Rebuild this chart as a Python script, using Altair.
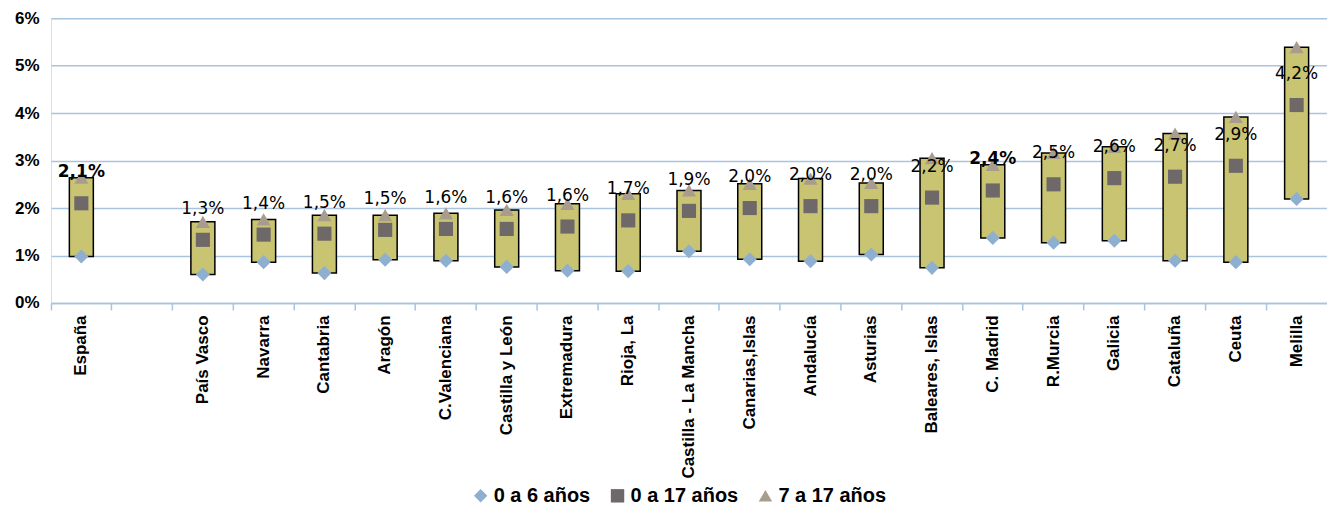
import altair as alt
import pandas as pd

regions = ["España", "País Vasco", "Navarra", "Cantabria", "Aragón", "C.Valenciana",
           "Castilla y León", "Extremadura", "Rioja, La", "Castilla - La Mancha",
           "Canarias,Islas", "Andalucía", "Asturias", "Baleares, Islas", "C. Madrid",
           "R.Murcia", "Galicia", "Cataluña", "Ceuta", "Melilla"]
v_0_6 = [0.98, 0.60, 0.86, 0.63, 0.91, 0.89, 0.76, 0.68, 0.67, 1.09,
         0.92, 0.88, 1.02, 0.74, 1.37, 1.27, 1.31, 0.89, 0.86, 2.19]
v_0_17 = [2.10, 1.33, 1.44, 1.46, 1.54, 1.56, 1.56, 1.61, 1.74, 1.94,
          2.00, 2.04, 2.04, 2.22, 2.37, 2.50, 2.63, 2.66, 2.89, 4.17]
v_7_17 = [2.64, 1.71, 1.76, 1.85, 1.85, 1.89, 1.96, 2.09, 2.30, 2.37,
          2.51, 2.62, 2.53, 3.05, 2.91, 3.16, 3.29, 3.57, 3.92, 5.39]
bold_labels = ["España", "C. Madrid"]
series_names = ["0 a 6 años", "0 a 17 años", "7 a 17 años"]
x_domain = ["España", " "] + regions[1:]

wide = pd.DataFrame({"region": regions, "low": v_0_6, "mid": v_0_17, "high": v_7_17})
wide["bold"] = wide["region"].isin(bold_labels)
long = pd.concat([
    pd.DataFrame({"region": regions, "serie": series_names[0], "v": v_0_6}),
    pd.DataFrame({"region": regions, "serie": series_names[1], "v": v_0_17}),
    pd.DataFrame({"region": regions, "serie": series_names[2], "v": v_7_17}),
])

font = "Liberation Sans"
grid_col = "#A9C4DE"

x = alt.X("region:N", sort=x_domain, scale=alt.Scale(domain=x_domain, paddingInner=0, paddingOuter=0),
          axis=alt.Axis(title=None, labelAngle=-90, labelFont=font, labelFontWeight="bold",
                        labelFontSize=17, labelColor="#000", labelPadding=5, tickSize=7,
                        tickColor=grid_col, domainColor=grid_col, domainWidth=1.5, tickWidth=1.5,
                        bandPosition=0, labelBaseline="middle", labelAlign="right", grid=False))
y = alt.Y("low:Q", scale=alt.Scale(domain=[0, 6]),
          axis=alt.Axis(title=None, values=[0, 1, 2, 3, 4, 5, 6], labelExpr="datum.value + '%'",
                        labelFont=font, labelFontWeight="bold", labelFontSize=17,
                        labelColor="#000", ticks=False, domain=False, labelPadding=12,
                        gridColor=grid_col, gridWidth=1.5))

base = alt.Chart(wide)
bars = base.mark_bar(size=24, fill="#C9C472", stroke="#000", strokeWidth=1.5).encode(
    x=x, y=y, y2="high:Q")

points = alt.Chart(long).mark_point(filled=True, opacity=1, size=200).encode(
    x=alt.X("region:N", sort=x_domain),
    y=alt.Y("v:Q"),
    color=alt.Color("serie:N", scale=alt.Scale(domain=series_names,
                                                range=["#8EAFCF", "#6E6968", "#A89C8E"]),
                    legend=alt.Legend(title=None, orient="none", direction="horizontal",
                                      legendX=420, legendY=468, labelFont=font,
                                      labelFontWeight="bold", labelFontSize=20, labelColor="#000",
                                      symbolSize=180, columnPadding=17, labelOffset=3)),
    shape=alt.Shape("serie:N", scale=alt.Scale(domain=series_names,
                                                range=["diamond", "square", "triangle-up"]),
                    legend=None),
)

lbl = base.transform_calculate(
    txt="replace(format(datum.mid / 100, '.1%'), '.', ',')"
)
text_norm = lbl.transform_filter("!datum.bold").mark_text(
    dy=-31, font="DejaVu Sans", fontSize=17, color="#000").encode(
    x=alt.X("region:N", sort=x_domain), y=alt.Y("mid:Q"), text="txt:N")
text_bold = lbl.transform_filter("datum.bold").mark_text(
    dy=-31, font="DejaVu Sans", fontSize=17, fontWeight="bold", color="#000").encode(
    x=alt.X("region:N", sort=x_domain), y=alt.Y("mid:Q"), text="txt:N")

chart = alt.layer(bars, points, text_norm, text_bold).properties(
    width=1277, height=285,
    padding={"left": 6, "top": 1, "right": 0, "bottom": 0}
).configure_view(stroke=None).configure(background="white")

chart.save("out.html", embed_options={"renderer": "svg", "actions": False})
